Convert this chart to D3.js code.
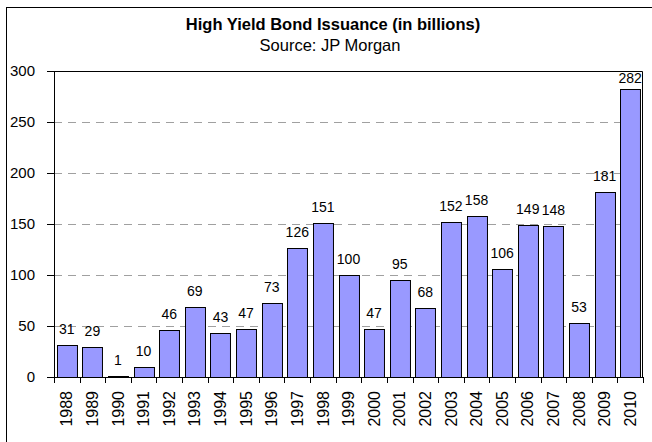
<!DOCTYPE html>
<html>
<head>
<meta charset="utf-8">
<script src="https://cdn.jsdelivr.net/npm/d3@7"></script>
<style>
  body { margin: 0; background: #fff; }
  text { font-family: "Liberation Sans", Arial, sans-serif; }
</style>
</head>
<body>
<div id="chart"></div>
<script>
const years = ["1988", "1989", "1990", "1991", "1992", "1993", "1994", "1995", "1996", "1997", "1998", "1999",
  "2000", "2001", "2002", "2003", "2004", "2005", "2006", "2007", "2008", "2009", "2010"];
const issuance = [31, 29, 1, 10, 46, 69, 43, 47, 73, 126, 151, 100, 47, 95, 68, 152, 158, 106, 149, 148, 53, 181, 282];
const yTicks = [0, 50, 100, 150, 200, 250, 300];

const W = 652, H = 442;
const margin = { top: 71, right: 9, bottom: 65, left: 54 };
const width = W - margin.left - margin.right;
const height = H - margin.top - margin.bottom;

const svg = d3.select("#chart").append("svg")
  .attr("width", W)
  .attr("height", H);

// outer chart border (runs off the right / bottom of the picture)
svg.append("rect")
  .attr("x", 6.5).attr("y", 7.5)
  .attr("width", 700).attr("height", 500)
  .attr("fill", "#fff")
  .attr("stroke", "#000");

svg.append("text")
  .attr("x", 333).attr("y", 30)
  .attr("text-anchor", "middle")
  .attr("font-size", 16.5).attr("font-weight", "bold")
  .text("High Yield Bond Issuance (in billions)");

svg.append("text")
  .attr("x", 330).attr("y", 51)
  .attr("text-anchor", "middle")
  .attr("font-size", 16.5)
  .text("Source: JP Morgan");

const g = svg.append("g")
  .attr("transform", `translate(${margin.left},${margin.top})`);

const x = d3.scaleBand().domain(years).range([0, width]).paddingInner(0.22).paddingOuter(0.11);
const y = d3.scaleLinear().domain([0, 300]).range([height, 0]);

// dashed gridlines
g.selectAll(".grid")
  .data(yTicks.filter(d => d > 0 && d < 300))
  .join("line")
  .attr("x1", 0).attr("x2", width)
  .attr("y1", d => Math.round(y(d)) + 0.5).attr("y2", d => Math.round(y(d)) + 0.5)
  .attr("stroke", "#a0a0a0")
  .attr("stroke-dasharray", "8,6");

// plot top + right border
g.append("path")
  .attr("d", `M0,0.5H${width - 0.5}V${height}`)
  .attr("fill", "none")
  .attr("stroke", "#000");

g.selectAll(".bar")
  .data(issuance)
  .join("rect")
  .attr("x", (d, i) => Math.round(x(years[i])) + 0.5)
  .attr("y", d => Math.round(y(d)) + 0.5)
  .attr("width", x.bandwidth())
  .attr("height", d => height - Math.round(y(d)))
  .attr("fill", "#9999ff")
  .attr("stroke", "#000");

g.selectAll(".lbl")
  .data(issuance)
  .join("text")
  .attr("x", (d, i) => x(years[i]) + x.bandwidth() / 2)
  .attr("y", d => Math.max(y(d) - 11, 12))
  .attr("text-anchor", "middle")
  .attr("font-size", 14)
  .text(d => d);

// y axis
const yAxis = g.append("g")
  .call(d3.axisLeft(y).tickValues(yTicks).tickSize(7).tickPadding(12));
yAxis.select(".domain").attr("stroke", "#000");
yAxis.selectAll("text").attr("font-size", 15).attr("fill", "#000")
  .attr("font-family", "Liberation Sans, Arial, sans-serif");

// x axis: ticks at band boundaries
const xAxis = g.append("g").attr("transform", `translate(0,${height})`);
xAxis.append("line")
  .attr("x1", 0).attr("x2", width)
  .attr("y1", 0.5).attr("y2", 0.5)
  .attr("stroke", "#000");
const step = width / years.length;
xAxis.selectAll(".tk")
  .data(d3.range(years.length + 1))
  .join("line")
  .attr("x1", i => Math.round(i * step) + 0.5).attr("x2", i => Math.round(i * step) + 0.5)
  .attr("y1", 0).attr("y2", 6)
  .attr("stroke", "#000");
xAxis.selectAll(".yr")
  .data(years)
  .join("text")
  .attr("transform", d => `translate(${x(d) + x.bandwidth() / 2},14) rotate(-90)`)
  .attr("text-anchor", "end")
  .attr("dy", "0.35em")
  .attr("font-size", 16)
  .text(d => d);
</script>
</body>
</html>
